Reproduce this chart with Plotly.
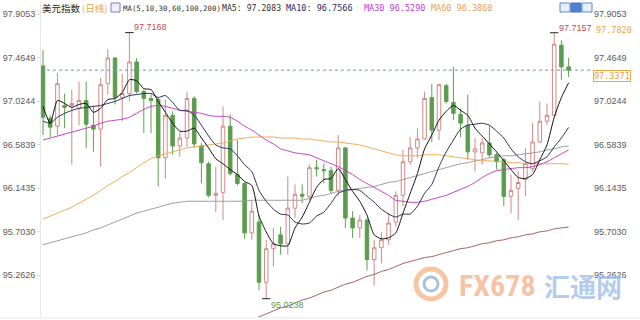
import plotly.graph_objects as go

# ---------------- data ----------------
opens = [97.38, 96.85, 96.77, 96.98, 96.98, 96.95, 97.03, 96.78, 96.74, 97.20,
         97.46, 97.06, 97.10, 97.42, 97.12, 97.05, 97.04, 96.45, 96.88, 96.57,
         96.65, 97.05, 96.57, 96.39, 96.07, 96.10, 96.77, 96.28, 96.19, 95.69,
         95.80, 95.19, 95.53, 95.67, 95.58, 95.94, 96.08, 96.06, 96.35, 96.33,
         96.32, 96.12, 96.55, 95.84, 95.74, 95.82, 95.42, 95.54, 95.62, 95.80,
         96.07, 96.41, 96.55, 96.64, 97.06, 96.73, 97.18, 97.01, 96.89, 96.78,
         96.51, 96.50, 96.60, 96.48, 96.43, 96.06, 96.14, 96.23, 96.34, 96.61,
         96.82, 96.88, 97.59, 97.37]
highs = [97.54, 96.88, 97.31, 97.10, 97.14, 97.22, 97.22, 96.98, 97.26, 97.55,
         97.47, 97.30, 97.7168, 97.46, 97.14, 97.09, 97.06, 97.04, 96.92, 96.71,
         97.12, 97.07, 96.60, 96.41, 96.36, 96.97, 96.89, 96.63, 96.20, 96.02,
         95.87, 95.62, 95.74, 95.75, 96.26, 96.18, 96.18, 96.38, 96.43, 96.39,
         96.36, 96.68, 96.56, 95.91, 95.87, 95.84, 95.62, 95.70, 95.89, 96.11,
         96.53, 96.66, 96.75, 97.12, 97.20, 97.20, 97.20, 97.37, 96.95, 97.09,
         96.65, 96.65, 96.77, 96.50, 96.45, 96.28, 96.31, 96.55, 96.80, 97.02,
         97.00, 97.7157, 97.64, 97.46]
lows = [96.68, 96.66, 96.68, 96.75, 96.38, 96.78, 96.55, 96.51, 96.36, 97.09,
        96.99, 96.82, 97.02, 97.10, 96.70, 96.70, 96.16, 96.24, 96.48, 96.46,
        96.56, 96.55, 96.19, 96.05, 95.90, 95.82, 96.27, 96.17, 95.63, 95.62,
        95.11, 95.0238, 95.35, 95.47, 95.47, 95.84, 95.99, 96.02, 96.26, 96.19,
        96.09, 96.06, 95.74, 95.64, 95.64, 95.31, 95.16, 95.38, 95.57, 95.75,
        95.96, 96.38, 96.45, 96.63, 96.61, 96.63, 97.00, 96.83, 96.66, 96.43,
        96.31, 96.38, 96.45, 96.33, 95.96, 95.89, 95.82, 96.06, 96.31, 96.60,
        96.78, 96.87, 97.24, 97.27]
closes = [96.86, 96.76, 97.20, 96.96, 97.00, 97.03, 96.79, 96.74, 97.19, 97.46,
          97.06, 97.10, 97.42, 97.12, 97.05, 97.03, 96.45, 96.88, 96.57, 96.65,
          97.05, 96.59, 96.40, 96.07, 96.09, 96.77, 96.29, 96.19, 95.69, 95.91,
          95.19, 95.53, 95.58, 95.58, 95.94, 96.08, 96.06, 96.35, 96.34, 96.32,
          96.12, 96.55, 95.84, 95.74, 95.82, 95.42, 95.54, 95.62, 95.79, 96.07,
          96.41, 96.55, 96.64, 97.05, 96.73, 97.19, 97.02, 96.90, 96.80, 96.51,
          96.54, 96.60, 96.48, 96.41, 96.06, 96.12, 96.20, 96.39, 96.61, 96.82,
          96.88, 97.60, 97.37, 97.3371]

ma5 = [96.97, 96.80, 97.03, 97.00, 96.96, 96.99, 97.00, 96.91, 96.95, 97.04,
       97.05, 97.11, 97.24, 97.23, 97.15, 97.14, 97.02, 96.91, 96.80, 96.72,
       96.72, 96.75, 96.65, 96.55, 96.44, 96.39, 96.33, 96.28, 96.21, 96.17,
       95.86, 95.70, 95.58, 95.56, 95.56, 95.74, 95.85, 96.00, 96.15, 96.23,
       96.24, 96.34, 96.23, 96.11, 96.01, 95.87, 95.67, 95.63, 95.64, 95.69,
       95.89, 96.09, 96.29, 96.54, 96.68, 96.83, 96.92, 96.98, 96.93, 96.88,
       96.75, 96.67, 96.59, 96.51, 96.42, 96.33, 96.25, 96.24, 96.28, 96.43,
       96.58, 96.86, 97.06, 97.2083]
ma10 = [96.82, 96.80, 96.86, 96.90, 96.93, 96.95, 96.96, 96.97, 96.98, 97.00,
        97.02, 97.05, 97.08, 97.09, 97.10, 97.10, 97.06, 97.08, 97.01, 96.93,
        96.93, 96.88, 96.78, 96.67, 96.58, 96.55, 96.54, 96.47, 96.38, 96.31,
        96.12, 96.01, 95.93, 95.88, 95.87, 95.80, 95.78, 95.79, 95.86, 95.90,
        95.99, 96.09, 96.12, 96.13, 96.12, 96.06, 96.00, 95.93, 95.88, 95.85,
        95.88, 95.88, 95.96, 96.09, 96.18, 96.36, 96.51, 96.63, 96.74, 96.78,
        96.79, 96.80, 96.78, 96.72, 96.65, 96.54, 96.46, 96.41, 96.39, 96.42,
        96.46, 96.56, 96.65, 96.7566]
ma30 = [96.63, 96.65, 96.67, 96.69, 96.71, 96.73, 96.75, 96.77, 96.80, 96.82,
        96.83, 96.84, 96.86, 96.90, 96.94, 96.97, 96.98, 96.97, 96.95, 96.93,
        96.92, 96.91, 96.90, 96.88, 96.87, 96.87, 96.86, 96.82, 96.77, 96.73,
        96.68, 96.63, 96.59, 96.54, 96.52, 96.50, 96.49, 96.48, 96.45, 96.42,
        96.39, 96.36, 96.32, 96.28, 96.23, 96.19, 96.15, 96.11, 96.07, 96.02,
        96.01, 96.00, 96.00, 96.01, 96.03, 96.05, 96.07, 96.10, 96.13, 96.16,
        96.20, 96.25, 96.29, 96.32, 96.33, 96.34, 96.35, 96.35, 96.36, 96.38,
        96.41, 96.45, 96.49, 96.5290]
ma60 = [95.83, 95.86, 95.89, 95.92, 95.95, 95.99, 96.03, 96.07, 96.12, 96.17,
        96.21, 96.26, 96.30, 96.35, 96.40, 96.44, 96.47, 96.49, 96.51, 96.53,
        96.55, 96.56, 96.57, 96.58, 96.59, 96.60, 96.62, 96.64, 96.65, 96.66,
        96.66, 96.66, 96.66, 96.65, 96.65, 96.65, 96.64, 96.64, 96.63, 96.62,
        96.61, 96.61, 96.60, 96.59, 96.58, 96.56, 96.54, 96.52, 96.50, 96.48,
        96.47, 96.47, 96.47, 96.48, 96.48, 96.48, 96.47, 96.46, 96.45, 96.44,
        96.43, 96.42, 96.42, 96.41, 96.41, 96.40, 96.40, 96.39, 96.39, 96.39,
        96.39, 96.39, 96.39, 96.3860]
ma100 = [95.57, 95.59, 95.61, 95.63, 95.65, 95.67, 95.69, 95.72, 95.74, 95.77,
         95.80, 95.83, 95.86, 95.89, 95.91, 95.93, 95.95, 95.97, 95.99, 96.00,
         96.01, 96.01, 96.01, 96.01, 96.01, 96.01, 96.01, 96.01, 96.01, 96.02,
         96.02, 96.02, 96.02, 96.02, 96.02, 96.02, 96.02, 96.04, 96.06, 96.07,
         96.09, 96.11, 96.12, 96.13, 96.14, 96.15, 96.16, 96.18, 96.20, 96.21,
         96.23, 96.25, 96.27, 96.29, 96.31, 96.33, 96.35, 96.37, 96.39, 96.40,
         96.42, 96.43, 96.45, 96.46, 96.47, 96.47, 96.48, 96.49, 96.50, 96.51,
         96.53, 96.54, 96.56, 96.57]
ma200 = [None] * 28 + [
         94.79, 94.81, 94.84, 94.87, 94.90, 94.93, 94.95, 94.98, 95.01, 95.03,
         95.06, 95.09, 95.11, 95.14, 95.17, 95.19, 95.22, 95.25, 95.27, 95.30,
         95.32, 95.35, 95.38, 95.40, 95.42, 95.44, 95.45, 95.47, 95.49, 95.51,
         95.53, 95.54, 95.56, 95.58, 95.59, 95.61, 95.62, 95.64, 95.65, 95.67,
         95.68, 95.70, 95.71, 95.73, 95.74, 95.75]

tick_vals = [97.9053, 97.4649, 97.0244, 96.5839, 96.1435, 95.7030, 95.2626]
marker_prices = [97.7820]          # orange level label on the right
mark_idx = [12, 71, 31]            # labelled extreme candles

idx = list(range(len(closes)))
last = closes[-1]

UP = "#cf8a86"
DOWN = "#5e9e52"
FONT = "Liberation Sans, Arial, sans-serif"
MONO = "DejaVu Sans Mono, Liberation Mono, monospace"

fig = go.Figure()
fig.add_trace(go.Candlestick(
    x=idx, open=opens, high=highs, low=lows, close=closes,
    increasing=dict(line=dict(color=UP, width=1), fillcolor="white"),
    decreasing=dict(line=dict(color=DOWN, width=1), fillcolor="#5b9b4f"),
    whiskerwidth=0, showlegend=False, hoverinfo="skip"))

lines = [(ma200, "#a85a5a"), (ma100, "#9a9a9a"), (ma60, "#f2a856"),
         (ma30, "#c23fc8"), (ma10, "#2b2d5e"), (ma5, "#111111")]
for vals, col in lines:
    fig.add_trace(go.Scatter(x=idx, y=vals, mode="lines",
                             line=dict(color=col, width=1, shape="spline", smoothing=0.6),
                             showlegend=False, hoverinfo="skip", connectgaps=False))

ext_y = [highs[12], highs[71], lows[31]]
fig.add_trace(go.Scatter(x=mark_idx, y=ext_y, mode="markers",
                         marker=dict(symbol="line-ew", size=6,
                                     line=dict(color="#222", width=1)),
                         showlegend=False, hoverinfo="skip"))
fig.add_trace(go.Scatter(x=[idx[-1]], y=[last], yaxis="y2", mode="markers",
                         marker=dict(opacity=0), showlegend=False, hoverinfo="skip"))

L, R, T, B = 41, 47, 2, 3
W, H = 640, 320
PW, PH = W - L - R, H - T - B
px = lambda x: (x - L) / PW
py = lambda y: (H - B - y) / PH

yr = [94.8385, 98.0268]
ticktext = ["%.4f" % v for v in tick_vals]

fig.update_layout(
    width=W, height=H, margin=dict(l=L, r=R, t=T, b=B),
    paper_bgcolor="white", plot_bgcolor="white",
    xaxis=dict(range=[-0.28, 76.39], showgrid=False, showticklabels=False,
               zeroline=False, showline=False, rangeslider=dict(visible=False),
               fixedrange=True),
    yaxis=dict(range=yr, tickvals=tick_vals, ticktext=ticktext, showgrid=False,
               zeroline=False, showline=True, linecolor="#e6e6e6", ticks="outside",
               ticklen=3, tickcolor="#d8d8d8",
               tickfont=dict(family=FONT, size=9, color="#5a5a5a"), fixedrange=True),
    yaxis2=dict(range=yr, overlaying="y", side="right", tickvals=tick_vals,
                ticktext=ticktext, showgrid=False, zeroline=False, showline=False,
                tickfont=dict(family=FONT, size=9, color="#5a5a5a"), fixedrange=True),
    showlegend=False,
)

shapes = [
    dict(type="line", xref="paper", yref="y", x0=0, x1=1, y0=last, y1=last,
         line=dict(color="#6f8fc8", width=1, dash="dot")),
    dict(type="line", xref="paper", yref="paper", x0=px(0), x1=px(640),
         y0=py(318), y1=py(318), line=dict(color="#e2e4ea", width=1)),
    dict(type="circle", xref="paper", yref="paper", x0=px(416), x1=px(446),
         y0=py(299), y1=py(269), line=dict(color="rgba(246,182,140,0.8)", width=5)),
    dict(type="circle", xref="paper", yref="paper", x0=px(424), x1=px(438),
         y0=py(291), y1=py(277), line=dict(color="rgba(150,178,215,0.8)", width=3)),
    dict(type="rect", xref="paper", yref="paper", x0=px(560), x1=px(570), y0=py(12), y1=py(3),
         line=dict(color="#5a86c8", width=1), fillcolor="#e8f0fb"),
    dict(type="rect", xref="paper", yref="paper", x0=px(571), x1=px(581), y0=py(12), y1=py(3),
         line=dict(color="#3f72c0", width=1), fillcolor="#4f82cc"),
    dict(type="rect", xref="paper", yref="paper", x0=px(582), x1=px(592), y0=py(12), y1=py(3),
         line=dict(color="#5a86c8", width=1), fillcolor="#e8f0fb"),
    dict(type="rect", xref="paper", yref="paper", x0=px(111), x1=px(120), y0=py(12), y1=py(3),
         line=dict(color="#7a7fc0", width=1), fillcolor="#eef0ff"),
]
fig.update_layout(shapes=shapes)

ann = []
def A(text, x, y, size, color, family=FONT, xanchor="left", yref="paper", yanchor="middle",
      xref="paper", xshift=0, yshift=0, **kw):
    ann.append(dict(text=text, x=x, y=y, xref=xref, yref=yref, xanchor=xanchor,
                    yanchor=yanchor, showarrow=False, xshift=xshift, yshift=yshift,
                    font=dict(family=family, size=size, color=color), **kw))

ty = py(8)
A("美元指数", px(40), ty, 9.5, "#222", family="Noto Sans CJK SC")
A("(日线)", px(80), ty, 9.5, "#e8a44a", family="Noto Sans CJK SC")
A("MA(5,10,30,60,100,200)", px(121), ty, 7.4, "#333", family=MONO)
A("MA5: 97.2083", px(220), ty, 8.2, "#333", family=MONO)
A("MA10: 96.7566", px(284), ty, 8.5, "#2b2d5e", family=MONO)
A("MA30 96.5290", px(362), ty, 8.5, "#c23fc8", family=MONO)
A("MA60 96.3860", px(429), ty, 8.5, "#e2a45a", family=MONO)

A("%.4f" % highs[12], mark_idx[0], highs[12], 9, "#c0504d", xref="x", yref="y",
  xshift=3, yshift=6)
A("%.4f" % highs[71], mark_idx[1], highs[71], 9, "#c0504d", xref="x", yref="y",
  xshift=3, yshift=5)
A("%.4f" % lows[31], mark_idx[2], lows[31], 9, "#5e9a4c", xref="x", yref="y",
  xshift=3, yshift=-6)

A("%.4f" % marker_prices[0], px(594), marker_prices[0], 8.5, "#eaa54c", family=MONO,
  yref="y", yshift=-4)
A("%.4f" % last, px(593), last, 8.5, "#e9a043", family=MONO, yref="y", yanchor="top",
  bordercolor="#f0a848", borderwidth=1, borderpad=0, bgcolor="white")

A("FX678", px(497), py(285), 30, "rgba(246,184,150,0.85)",
  family="Liberation Sans Narrow, Roboto Condensed, Liberation Sans, Arial",
  xanchor="center")
ann[-1]["font"]["weight"] = "bold"
A("汇通网", px(583), py(285), 26, "rgba(160,190,232,0.8)", family="Noto Sans CJK SC",
  xanchor="center")
ann[-1]["font"]["weight"] = "bold"

fig.update_layout(annotations=ann)
fig.write_html("out.html")
